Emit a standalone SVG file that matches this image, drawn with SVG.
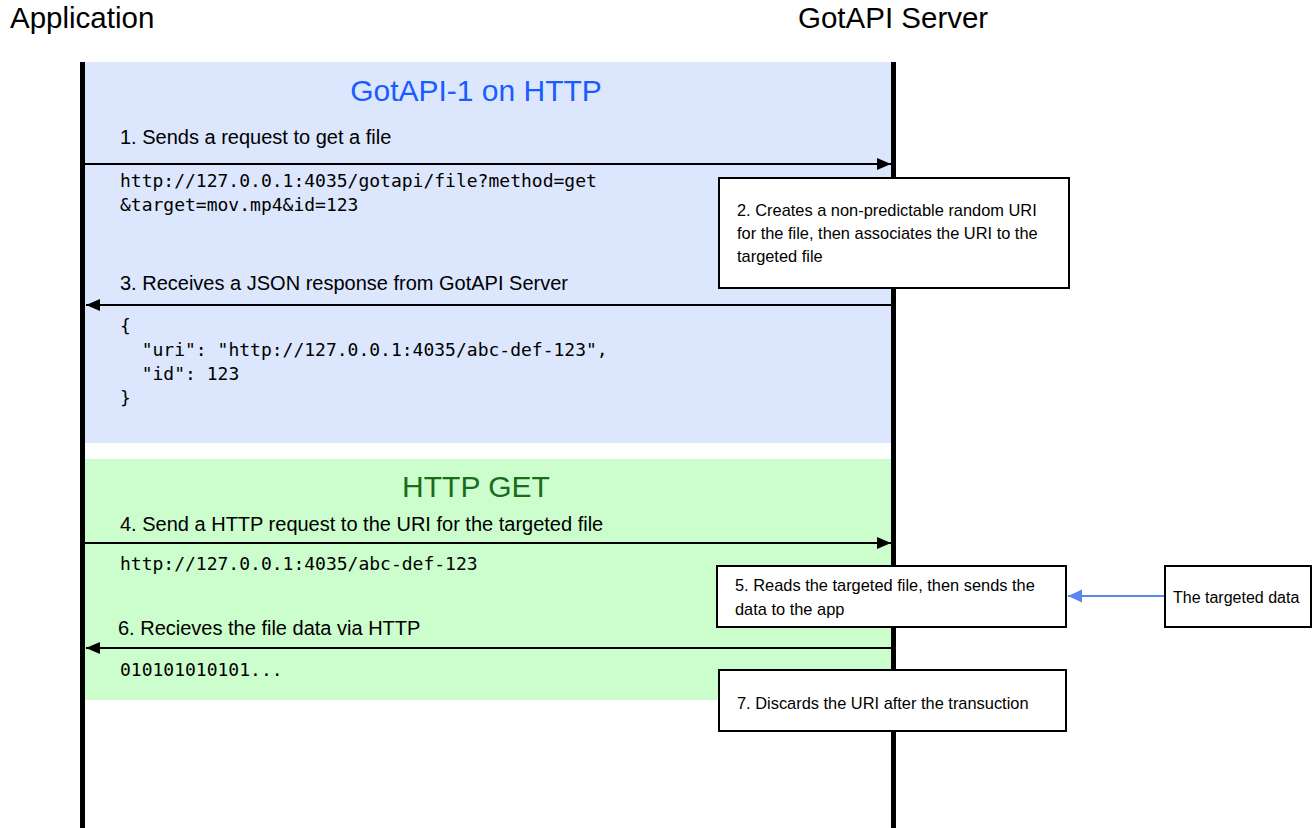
<svg xmlns="http://www.w3.org/2000/svg" width="1312" height="828" viewBox="0 0 1312 828">
<style>
.actor{font-family:"Liberation Sans",Arial,sans-serif;font-size:29.5px;fill:#000}
.title{font-family:"Liberation Sans",Arial,sans-serif;font-size:30px;text-anchor:middle}
.step{font-family:"Liberation Sans",Arial,sans-serif;font-size:20px;fill:#000}
.note{font-family:"Liberation Sans",Arial,sans-serif;font-size:16.4px;fill:#000}
.mono{font-family:"DejaVu Sans Mono","Liberation Mono",monospace;font-size:18px;fill:#000}
.box{fill:#fff;stroke:#000;stroke-width:2}
.msg{stroke:#000;stroke-width:2;fill:none}
.life{stroke:#000;stroke-width:5}
</style>
<defs>
<marker id="ah" markerUnits="userSpaceOnUse" markerWidth="16" markerHeight="14" refX="14" refY="6" orient="auto">
<path d="M0,0 L14,6 L0,12 z" fill="#000"/>
</marker>
<marker id="ahb" markerUnits="userSpaceOnUse" markerWidth="16" markerHeight="14" refX="14" refY="6.5" orient="auto">
<path d="M0,0 L14,6.5 L0,13 z" fill="#5b86f0"/>
</marker>
</defs>
<rect width="1312" height="828" fill="#fff"/>
<g id="region-gotapi">
<rect x="84" y="62" width="808" height="381" fill="#dce6fd"/>
<text class="title" x="476" y="101" fill="#1a5cff">GotAPI-1 on HTTP</text>
</g>
<g id="region-httpget">
<rect x="84" y="459" width="808" height="241" fill="#ccfdcc"/>
<text class="title" x="476" y="497" fill="#1a6b1a">HTTP GET</text>
</g>
<g id="application">
<text class="actor" x="10" y="28">Application</text>
<line class="life" x1="82.5" y1="62" x2="82.5" y2="828"/>
</g>
<g id="gotapi-server">
<text class="actor" x="798" y="28">GotAPI Server</text>
<line class="life" x1="893.5" y1="62" x2="893.5" y2="828"/>
</g>
<g id="connectors">
<line class="msg" x1="85" y1="164" x2="891" y2="164" marker-end="url(#ah)"/>
<line class="msg" x1="891" y1="305" x2="86" y2="305" marker-end="url(#ah)"/>
<line class="msg" x1="85" y1="543" x2="891" y2="543" marker-end="url(#ah)"/>
<line class="msg" x1="891" y1="648" x2="86" y2="648" marker-end="url(#ah)"/>
<line x1="1165" y1="596" x2="1068" y2="596" stroke="#5b86f0" stroke-width="2" marker-end="url(#ahb)"/>
</g>
<g id="msg1">
<text class="step" x="120" y="144">1. Sends a request to get a file</text>
<text class="mono" x="120" y="187">http://127.0.0.1:4035/gotapi/file?method=get</text>
<text class="mono" x="120" y="211">&amp;target=mov.mp4&amp;id=123</text>
</g>
<g id="note2">
<rect class="box" x="719" y="178" width="350" height="110"/>
<text class="note" x="737" y="216">2. Creates a non-predictable random URI</text>
<text class="note" x="737" y="239">for the file, then associates the URI to the</text>
<text class="note" x="737" y="262">targeted file</text>
</g>
<g id="msg3">
<text class="step" x="120" y="290">3. Receives a JSON response from GotAPI Server</text>
<text class="mono" x="120" y="332">{</text>
<text class="mono" x="141.7" y="356">"uri": "http://127.0.0.1:4035/abc-def-123",</text>
<text class="mono" x="141.7" y="380">"id": 123</text>
<text class="mono" x="120" y="404">}</text>
</g>
<g id="msg4">
<text class="step" x="120" y="531">4. Send a HTTP request to the URI for the targeted file</text>
<text class="mono" x="120" y="570">http://127.0.0.1:4035/abc-def-123</text>
</g>
<g id="note5">
<rect class="box" x="717" y="566" width="349" height="61"/>
<text class="note" x="735" y="591">5. Reads the targeted file, then sends the</text>
<text class="note" x="735" y="615">data to the app</text>
</g>
<g id="targeted-data">
<rect class="box" x="1165" y="566" width="146" height="61"/>
<text class="note" x="1173" y="603" style="font-size:16px">The targeted data</text>
</g>
<g id="msg6">
<text class="step" x="118" y="635">6. Recieves the file data via HTTP</text>
<text class="mono" x="120" y="676">010101010101...</text>
</g>
<g id="note7">
<rect class="box" x="719" y="670" width="347" height="61"/>
<text class="note" x="737" y="709">7. Discards the URI after the transuction</text>
</g>
</svg>
